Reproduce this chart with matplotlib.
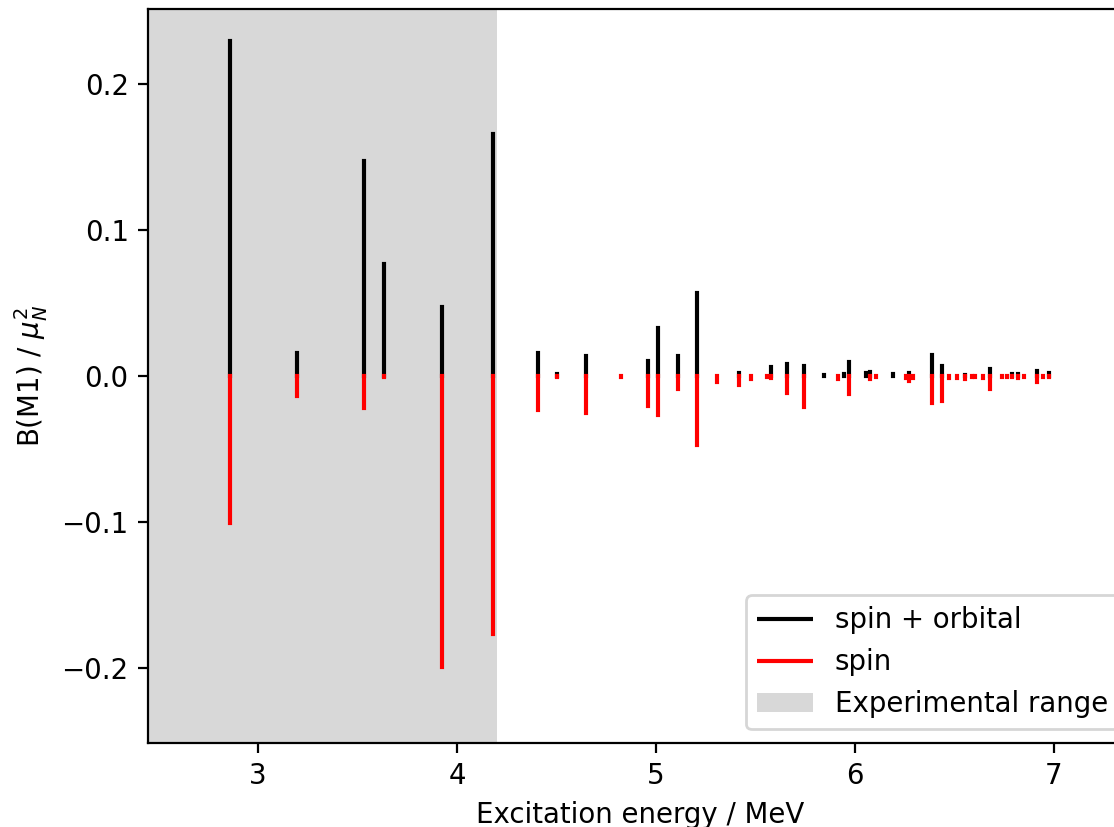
import matplotlib
matplotlib.use("Agg")
import matplotlib.pyplot as plt
import numpy as np

# excitation energies (MeV) and B(M1) strengths (mu_N^2)
energies = [2.859, 3.196, 3.533, 3.633, 3.925, 4.180,
            4.405, 4.504, 4.648, 4.823, 4.958, 5.008, 5.109, 5.208,
            5.308, 5.419, 5.476, 5.556, 5.576, 5.660, 5.745, 5.844,
            5.916, 5.946, 5.968, 6.054, 6.074, 6.106, 6.189, 6.256,
            6.273, 6.290, 6.360, 6.388, 6.436, 6.472, 6.514, 6.553,
            6.589, 6.603, 6.641, 6.678, 6.737, 6.762, 6.790, 6.820,
            6.849, 6.913, 6.943, 6.975]
b_total = [0.2297, 0.0158, 0.147, 0.077, 0.047, 0.166,
           0.016, 0.0016, 0.0139, 0.0, 0.0105, 0.033, 0.0135, 0.057,
           0.0, 0.002, 0.0, 0.0, 0.006, 0.008, 0.0069, 0.0005,
           0.0, 0.0014, 0.0096, 0.0018, 0.0027, 0.0, 0.0012, 0.0,
           0.0018, 0.0, 0.0, 0.0142, 0.0066, 0.0, 0.0, 0.0008,
           0.0, 0.0, 0.0, 0.0046, 0.0, 0.0, 0.0012, 0.0012,
           0.0, 0.0032, 0.0, 0.0023]
b_spin = [0.1007, 0.0137, 0.022, 0.001, 0.199, 0.177,
          0.023, 0.0005, 0.0256, 0.0005, 0.0205, 0.027, 0.0089, 0.047,
          0.0041, 0.0064, 0.0023, 0.0005, 0.0014, 0.0114, 0.0214, 0.0,
          0.0018, 0.0002, 0.0123, 0.0003, 0.0023, 0.0007, 0.0002, 0.0014,
          0.0037, 0.0014, 0.0003, 0.0185, 0.0173, 0.0014, 0.0014, 0.0018,
          0.0007, 0.0007, 0.0014, 0.0091, 0.0005, 0.0005, 0.0009, 0.0012,
          0.0005, 0.0043, 0.0009, 0.0009]
exp_range = (2.0, 4.2)

dpi = 199
fig = plt.figure(figsize=(1114 / dpi, 827 / dpi), dpi=dpi)
ax = fig.add_axes([148 / 1114, 84 / 827, 985 / 1114, 734 / 827])

e = np.array(energies)
ax.axvspan(exp_range[0], exp_range[1], color="grey", alpha=0.3, lw=0,
           label="Experimental range")
ax.vlines(e, 0, np.array(b_total), color="black", capstyle="projecting",
          label="spin + orbital")
ax.vlines(e, -np.array(b_spin), 0, color="red", capstyle="projecting",
          label="spin")

ax.set_xlim(2.447, 7.397)
ax.set_ylim(-0.2514, 0.2514)
ax.set_xlabel("Excitation energy / MeV")
ax.set_ylabel(r"B(M1) / $\mu_N^2$")

h, l = ax.get_legend_handles_labels()
ax.legend([h[1], h[2], h[0]], [l[1], l[2], l[0]], loc="lower right")

fig.savefig("out.png", dpi=dpi)
